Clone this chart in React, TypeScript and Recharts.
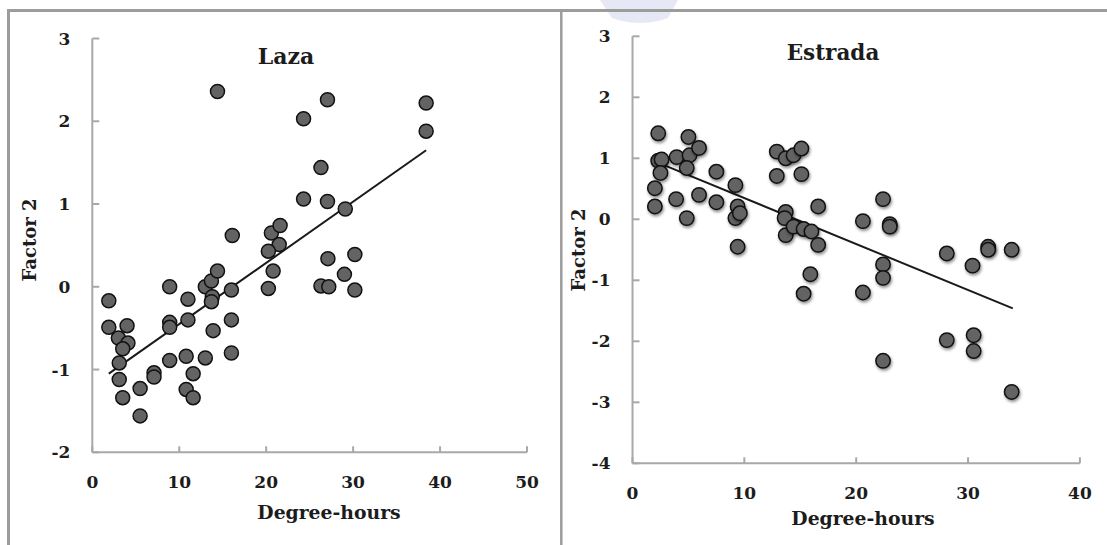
import React from "react";
import {
  ScatterChart,
  Scatter,
  XAxis,
  YAxis,
  ReferenceLine,
} from "recharts";

// Laza: degree-hours vs. factor 2 scores
const lazaHours = [
  1.9, 1.9, 4.0, 3.0, 4.1, 3.5, 3.1, 3.1, 3.5, 5.5, 5.5, 7.1, 7.1, 8.9, 8.9,
  8.9, 8.9, 11.0, 11.0, 10.8, 11.6, 10.8, 11.6, 13.0, 13.9, 13.0, 13.7, 14.4,
  13.8, 13.7, 16.0, 16.0, 16.0, 16.1, 14.4, 20.6, 21.6, 21.5, 20.25, 20.8,
  20.25, 24.3, 24.3, 26.3, 27.05, 27.05, 29.1, 27.1, 30.2, 29.0, 26.3, 27.2,
  30.2, 38.4, 38.4,
];
const lazaFactor = [
  -0.17, -0.49, -0.47, -0.62, -0.68, -0.75, -0.92, -1.12, -1.34, -1.23, -1.56,
  -1.04, -1.09, -0.89, -0.43, -0.49, 0.0, -0.15, -0.4, -0.84, -1.05, -1.24,
  -1.34, -0.86, -0.53, 0.0, 0.07, 0.19, -0.12, -0.18, -0.04, -0.4, -0.8, 0.62,
  2.36, 0.65, 0.74, 0.51, 0.43, 0.19, -0.02, 2.03, 1.06, 1.44, 2.26, 1.03,
  0.94, 0.34, 0.39, 0.15, 0.01, 0.0, -0.04, 2.22, 1.88,
];
const lazaTrendHours = [1.9, 38.4];
const lazaTrendFactor = [-1.05, 1.65];

// Estrada: degree-hours vs. factor 2 scores
const estradaHours = [
  2.3, 2.3, 2.6, 2.5, 2.0, 2.0, 3.95, 3.9, 5.0, 5.1, 4.85, 4.85, 5.95, 5.95,
  7.5, 7.5, 9.2, 9.4, 9.2, 9.6, 9.4, 12.9, 13.7, 14.4, 15.1, 12.9, 15.1, 13.7,
  13.6, 13.7, 14.4, 15.3, 16.0, 16.6, 16.6, 15.9, 15.3, 20.6, 20.6, 22.4,
  23.0, 23.0, 22.4, 22.4, 22.4, 28.1, 28.1, 30.4, 30.5, 30.5, 31.8, 31.8,
  33.9, 33.9,
];
const estradaFactor = [
  1.41, 0.96, 0.98, 0.76, 0.51, 0.21, 1.02, 0.33, 1.35, 1.05, 0.84, 0.02, 1.17,
  0.4, 0.78, 0.28, 0.56, 0.21, 0.02, 0.1, -0.45, 1.11, 1.0, 1.05, 1.16, 0.71,
  0.74, 0.12, 0.02, -0.26, -0.12, -0.16, -0.2, 0.21, -0.42, -0.9, -1.22, -0.03,
  -1.2, 0.33, -0.08, -0.12, -0.74, -0.96, -2.32, -0.56, -1.98, -0.76, -1.9,
  -2.16, -0.45, -0.5, -0.5, -2.83,
];
const estradaTrendHours = [2.0, 34.0];
const estradaTrendFactor = [0.95, -1.46];

const lazaXTicks = [0, 10, 20, 30, 40, 50];
const lazaYTicks = [-2, -1, 0, 1, 2, 3];
const estradaXTicks = [0, 10, 20, 30, 40];
const estradaYTicks = [-4, -3, -2, -1, 0, 1, 2, 3];

const zip = (xs: number[], ys: number[]) =>
  xs.map((x, i) => ({ x, y: ys[i] }));

const FONT = "'DejaVu Serif', serif";
const AXIS = "#a8a8a8";
const INK = "#1c1c1c";
const Y_GAP = 22;
const X_GAP = 30;
const TICK_FONT = 17;

const YTick = (props: any) => {
  const { x, y, payload } = props;
  const ax = x + Y_GAP;
  return (
    <g>
      <line x1={ax} x2={ax + 7} y1={y} y2={y} stroke={AXIS} strokeWidth={2} />
      <text
        x={x}
        y={y}
        dy="0.36em"
        textAnchor="end"
        fontFamily={FONT}
        fontWeight="bold"
        fontSize={TICK_FONT}
        fill={INK}
      >
        {payload.value}
      </text>
    </g>
  );
};

const XTick = (props: any) => {
  const { x, y, payload } = props;
  const ay = y - X_GAP;
  return (
    <g>
      <line x1={x} x2={x} y1={ay} y2={ay - 6} stroke={AXIS} strokeWidth={2} />
      <text
        x={x}
        y={y}
        dy="0.36em"
        textAnchor="middle"
        fontFamily={FONT}
        fontWeight="bold"
        fontSize={TICK_FONT}
        fill={INK}
      >
        {payload.value}
      </text>
    </g>
  );
};

const Dot = (props: any) => (
  <circle
    cx={props.cx}
    cy={props.cy}
    r={7}
    fill="#636363"
    stroke="#111"
    strokeWidth={1.5}
  />
);

const ShadowDot = (props: any) => (
  <circle
    cx={props.cx}
    cy={props.cy}
    r={7.2}
    fill="#636363"
    stroke="#111"
    strokeWidth={1.5}
    style={{ filter: "drop-shadow(1.5px 2.5px 1.5px rgba(0,0,0,0.45))" }}
  />
);

const labelStyle = {
  fontFamily: FONT,
  fontWeight: "bold" as const,
  fill: INK,
};

export default function App() {
  const laza = zip(lazaHours, lazaFactor);
  const estrada = zip(estradaHours, estradaFactor);

  return (
    <div
      style={{
        position: "absolute",
        left: 0,
        top: 0,
        width: 1107,
        height: 545,
        background: "#fff",
        overflow: "hidden",
      }}
    >
      <svg
        width={1107}
        height={545}
        style={{ position: "absolute", left: 0, top: 0 }}
      >
        <path d="M600,0 L678,0 L668,18 Q640,28 612,18 Z" fill="#e6e9f5" />
        <line x1={7} x2={1107} y1={10.5} y2={10.5} stroke="#9c9c9c" strokeWidth={3} />
        <line x1={8.5} x2={8.5} y1={9} y2={545} stroke="#9c9c9c" strokeWidth={3} />
        <line x1={561.3} x2={561.3} y1={10} y2={545} stroke="#9c9c9c" strokeWidth={2.5} />

        <text x={286} y={56} dy="0.36em" textAnchor="middle" fontSize={22} {...labelStyle}>
          Laza
        </text>
        <text x={833} y={52} dy="0.36em" textAnchor="middle" fontSize={21.5} {...labelStyle}>
          Estrada
        </text>
        <text
          x={30}
          y={240}
          dy="0.36em"
          textAnchor="middle"
          fontSize={18}
          transform="rotate(-90 30 240)"
          {...labelStyle}
        >
          Factor 2
        </text>
        <text
          x={579}
          y={250}
          dy="0.36em"
          textAnchor="middle"
          fontSize={18}
          transform="rotate(-90 579 250)"
          {...labelStyle}
        >
          Factor 2
        </text>
        <text x={329} y={512} dy="0.36em" textAnchor="middle" fontSize={18.8} {...labelStyle}>
          Degree-hours
        </text>
        <text x={863} y={518} dy="0.36em" textAnchor="middle" fontSize={18.8} {...labelStyle}>
          Degree-hours
        </text>
      </svg>

      <div style={{ position: "absolute", left: 0, top: 0 }}>
        <ScatterChart
          width={560}
          height={545}
          margin={{ top: 38.5, right: 33, bottom: 0, left: 0 }}
        >
          <XAxis
            type="number"
            dataKey="x"
            domain={[0, 50]}
            ticks={lazaXTicks}
            height={92.7}
            stroke={AXIS}
            strokeWidth={2}
            tickLine={false}
            tickSize={0}
            tickMargin={X_GAP}
            tick={<XTick />}
            interval={0}
            allowDataOverflow
          />
          <YAxis
            type="number"
            dataKey="y"
            domain={[-2, 3]}
            ticks={lazaYTicks}
            width={92.3}
            stroke={AXIS}
            strokeWidth={2}
            tickLine={false}
            tickSize={0}
            tickMargin={Y_GAP}
            tick={<YTick />}
            interval={0}
            allowDataOverflow
          />
          <Scatter data={laza} shape={<Dot />} isAnimationActive={false} />
          <ReferenceLine
            segment={[
              { x: lazaTrendHours[0], y: lazaTrendFactor[0] },
              { x: lazaTrendHours[1], y: lazaTrendFactor[1] },
            ]}
            stroke="#1a1a1a"
            strokeWidth={2}
            ifOverflow="visible"
          />
        </ScatterChart>
      </div>

      <div style={{ position: "absolute", left: 560, top: 0 }}>
        <ScatterChart
          width={547}
          height={545}
          margin={{ top: 36.3, right: 27.1, bottom: 0, left: 0 }}
        >
          <XAxis
            type="number"
            dataKey="x"
            domain={[0, 40]}
            ticks={estradaXTicks}
            height={81.7}
            stroke={AXIS}
            strokeWidth={2}
            tickLine={false}
            tickSize={0}
            tickMargin={X_GAP}
            tick={<XTick />}
            interval={0}
            allowDataOverflow
          />
          <YAxis
            type="number"
            dataKey="y"
            domain={[-4, 3]}
            ticks={estradaYTicks}
            width={72.5}
            stroke={AXIS}
            strokeWidth={2}
            tickLine={false}
            tickSize={0}
            tickMargin={Y_GAP}
            tick={<YTick />}
            interval={0}
            allowDataOverflow
          />
          <Scatter data={estrada} shape={<ShadowDot />} isAnimationActive={false} />
          <ReferenceLine
            segment={[
              { x: estradaTrendHours[0], y: estradaTrendFactor[0] },
              { x: estradaTrendHours[1], y: estradaTrendFactor[1] },
            ]}
            stroke="#1a1a1a"
            strokeWidth={2}
            ifOverflow="visible"
          />
        </ScatterChart>
      </div>
    </div>
  );
}
